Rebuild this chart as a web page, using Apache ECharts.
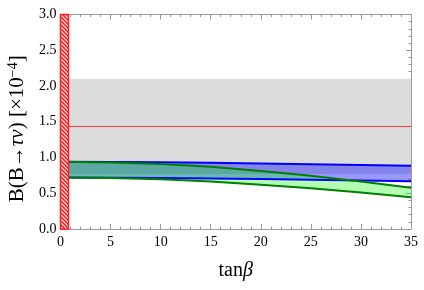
<!DOCTYPE html>
<html>
<head>
<meta charset="utf-8">
<script src="https://cdn.jsdelivr.net/npm/echarts@6/dist/echarts.min.js"></script>
<style>html,body{margin:0;padding:0;background:#fff;}#c{width:424px;height:290px;}</style>
</head>
<body>
<div id="c"></div>
<script>
// ---- data ----
const tanBeta     = [0, 5, 10, 15, 20, 25, 30, 35];
const blueUpper   = [0.94, 0.938, 0.933, 0.925, 0.915, 0.905, 0.895, 0.885];
const blueLower   = [0.72, 0.718, 0.713, 0.706, 0.698, 0.69, 0.68, 0.667];
const greenUpper  = [0.94, 0.93, 0.91, 0.87, 0.81, 0.745, 0.665, 0.578];
const greenLower  = [0.72, 0.715, 0.695, 0.665, 0.62, 0.57, 0.51, 0.443];
const expBand     = [0.77, 2.10];
const expCentral  = 1.44;
const excluded    = [0, 0.8];
const xRange      = [0, 35];
const yRange      = [0, 3];

const FONT = 'Liberation Serif';
const pairs = (xs, ys) => xs.map((x, i) => [x, ys[i]]);

// hatch pattern
const pc = document.createElement('canvas');
pc.width = 4; pc.height = 4;
const g = pc.getContext('2d');
g.strokeStyle = '#ff2020';
g.lineWidth = 1.6;
g.beginPath();
g.moveTo(-1,-1); g.lineTo(5,5);
g.moveTo(-1,3); g.lineTo(1,5);
g.moveTo(3,-1); g.lineTo(5,1);
g.stroke();

function bandSeries(name, up, lo, fill, z) {
  return {
    name, type: 'custom', coordinateSystem: 'cartesian2d', z, clip: true,
    data: [[tanBeta[0], lo[0]]],
    renderItem(params, api) {
      const pts = tanBeta.map((x, i) => api.coord([x, up[i]]))
        .concat(tanBeta.map((x, i) => api.coord([x, lo[i]])).reverse());
      return { type: 'polygon', shape: { points: pts }, style: { fill } };
    }
  };
}
function lineSeries(name, ys, color, z) {
  return {
    name, type: 'line', data: pairs(tanBeta, ys), showSymbol: false, symbol: 'none',
    lineStyle: { color, width: 2 }, z, silent: true
  };
}

const frame = '#999';
const baseX = {
  type: 'value', min: xRange[0], max: xRange[1], interval: 5,
  axisLine: { show: true, onZero: false, lineStyle: { color: frame, width: 1 } },
  axisTick: { show: true, inside: true, length: 5, lineStyle: { color: frame } },
  minorTick: { show: true, splitNumber: 5, length: 2.5, lineStyle: { color: frame } },
  splitLine: { show: false }
};
const baseY = {
  type: 'value', min: yRange[0], max: yRange[1], interval: 0.5,
  axisLine: { show: true, onZero: false, lineStyle: { color: frame, width: 1 } },
  axisTick: { show: true, inside: true, length: 5, lineStyle: { color: frame } },
  minorTick: { show: true, splitNumber: 5, length: 2.5, lineStyle: { color: frame } },
  splitLine: { show: false }
};

const chart = echarts.init(document.getElementById('c'), null, { renderer: 'canvas' });
chart.setOption({
  animation: false,
  grid: { left: 60.5, right: 13, top: 14.5, bottom: 61, containLabel: false, outerBoundsMode: 'none' },
  xAxis: [
    Object.assign({}, baseX, {
      position: 'bottom',
      axisLabel: { show: true, color: '#000', fontFamily: FONT, fontSize: 14, margin: 6 },
      name: '{a|tan}{b|β}', nameLocation: 'middle', nameGap: 32,
      nameTextStyle: { rich: {
        a: { fontFamily: FONT, fontSize: 20, color: '#000' },
        b: { fontFamily: FONT, fontSize: 20, color: '#000', fontStyle: 'italic' }
      } }
    }),
    Object.assign({}, baseX, { position: 'top', axisLabel: { show: false } })
  ],
  yAxis: [
    Object.assign({}, baseY, {
      position: 'left',
      axisLabel: { show: true, color: '#000', fontFamily: FONT, fontSize: 14, margin: 4,
        formatter: v => v.toFixed(1) },
      name: '{a|B(B→}{i|τν}{a|) [×10}{s|−4}{a|]}', nameLocation: 'middle', nameGap: 29, nameRotate: 90,
      nameTextStyle: { padding: [0, 14, 0, 0], rich: {
        a: { fontFamily: FONT, fontSize: 21, color: '#000' },
        i: { fontFamily: FONT, fontSize: 21, color: '#000', fontStyle: 'italic' },
        s: { fontFamily: FONT, fontSize: 14, color: '#000', verticalAlign: 'top', padding: [0,0,8,0] }
      } }
    }),
    Object.assign({}, baseY, { position: 'right', axisLabel: { show: false } })
  ],
  series: [
    {
      name: 'experiment', type: 'line', data: [], z: 1,
      markArea: { silent: true, itemStyle: { color: '#dcdcdc' },
        data: [[{ yAxis: expBand[0] }, { yAxis: expBand[1] }]] },
      markLine: { silent: true, symbol: 'none', label: { show: false },
        lineStyle: { color: '#ff3a3a', width: 1.2, type: 'solid' },
        data: [{ yAxis: expCentral }] }
    },
    bandSeries('blueBand', blueUpper, blueLower, 'rgba(0,0,255,0.4)', 2),
    bandSeries('greenBand', greenUpper, greenLower, 'rgba(0,255,0,0.3)', 3),
    lineSeries('blueUpper', blueUpper, '#0000ff', 4),
    lineSeries('blueLower', blueLower, '#0000ff', 4),
    lineSeries('greenUpper', greenUpper, '#007f00', 5),
    lineSeries('greenLower', greenLower, '#007f00', 5),
    {
      name: 'excluded', type: 'custom', coordinateSystem: 'cartesian2d', z: 6, clip: false,
      data: [[excluded[0], yRange[1]]],
      renderItem(params, api) {
        const p0 = api.coord([excluded[0], yRange[1]]);
        const p1 = api.coord([excluded[1], yRange[0]]);
        const shape = { x: p0[0], y: p0[1], width: p1[0] - p0[0], height: p1[1] - p0[1] };
        return { type: 'group', children: [
          { type: 'rect', shape, style: { fill: '#ffffff' } },
          { type: 'rect', shape, style: { fill: { image: pc, repeat: 'repeat' } } },
          { type: 'rect', shape, style: { fill: 'none', stroke: '#ff2020', lineWidth: 1.5 } }
        ] };
      }
    }
  ]
});
</script>
</body>
</html>
